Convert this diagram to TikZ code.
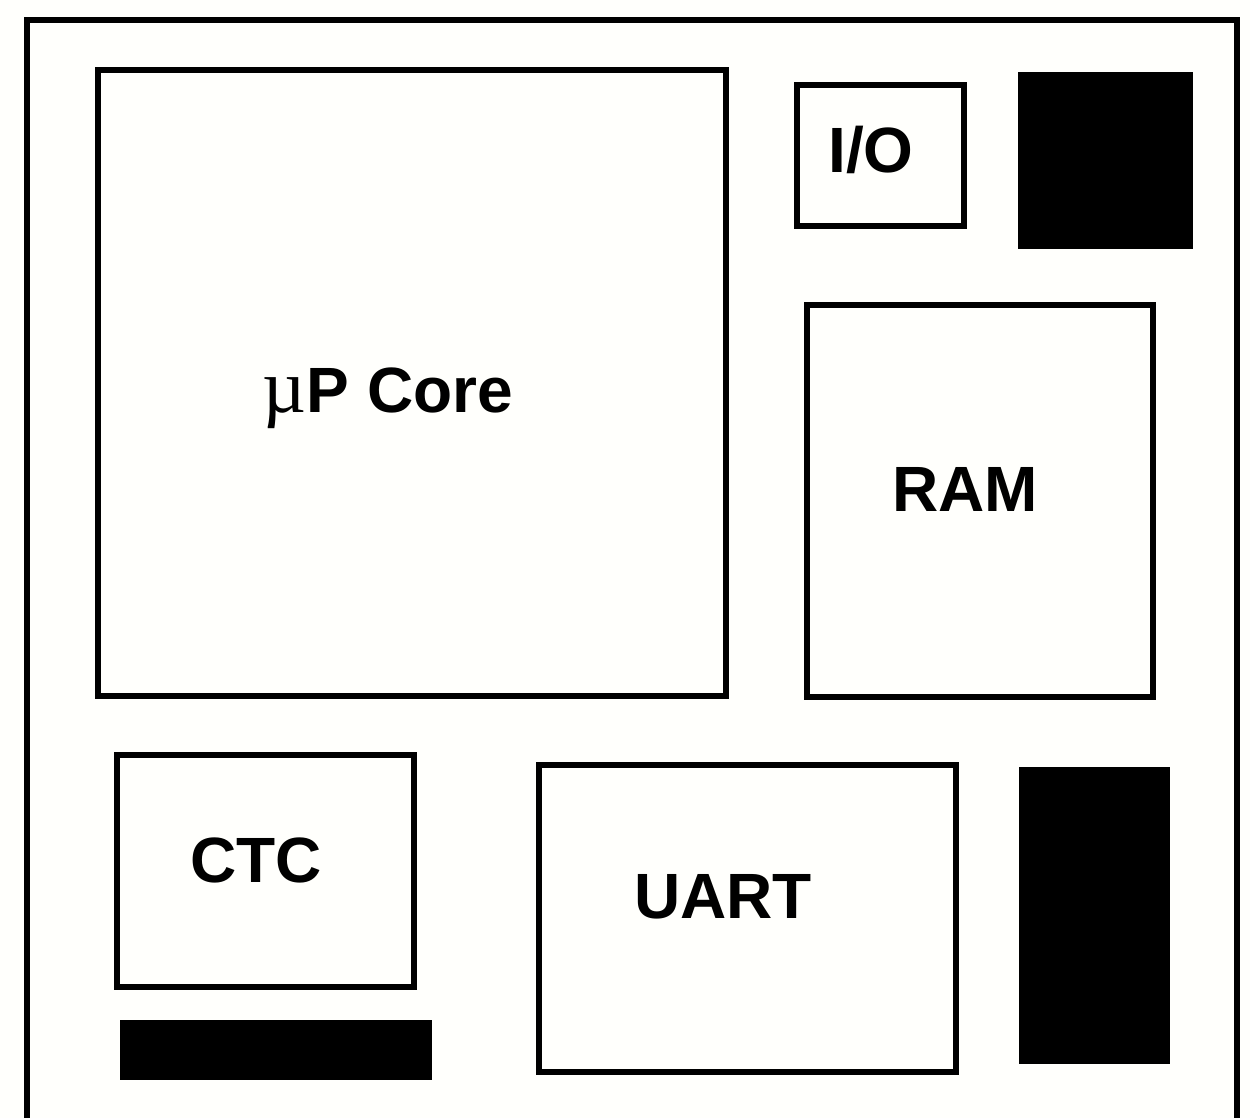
\documentclass[tikz,border=0pt]{standalone}
\usepackage{fontspec}
\setmainfont{Liberation Sans}
\newfontfamily\muserif{Liberation Serif}
\begin{document}
\begin{tikzpicture}[x=0.5pt,y=-0.5pt,
  blockbox/.style={draw=black,line width=2.6pt,fill=none},
  padblock/.style={fill=black,draw=none},
  lbl/.style={anchor=base,inner sep=0pt,font=\bfseries\fontsize{32}{36}\selectfont}]
\useasboundingbox[fill=white!99!yellow] (0,0) rectangle (1250,1118);
% outer die outline (bottom edge outside the picture)
\draw[line width=3pt,line join=miter] (27,1130) -- (27,20) -- (1237,20) -- (1237,1130);
% blocks
\draw[blockbox] (98,70) rectangle (726,696) coordinate (coreBR);
\draw[blockbox] (797,85) rectangle (964,226) coordinate (ioBR);
\draw[blockbox] (807,305) rectangle (1153,697) coordinate (ramBR);
\draw[blockbox] (117,755) rectangle (414,987) coordinate (ctcBR);
\draw[blockbox] (539,765) rectangle (956,1072) coordinate (uartBR);
% black pads
\fill[padblock] (1018,72) rectangle (1193,249);
\fill[padblock] (120,1020) rectangle (432,1080);
\fill[padblock] (1019,767) rectangle (1170,1064);
% labels
\node[lbl] (core) at (388,413) {{\muserif\mdseries\fontsize{38}{40}\selectfont µ}P Core};
\node[lbl] (ram) at (965,512) {RAM};
\node[lbl] (io) at (871,173) {I/O};
\node[lbl] (ctc) at (256,883) {CTC};
\node[lbl] (uart) at (723,918) {UART};
\end{tikzpicture}
\end{document}
